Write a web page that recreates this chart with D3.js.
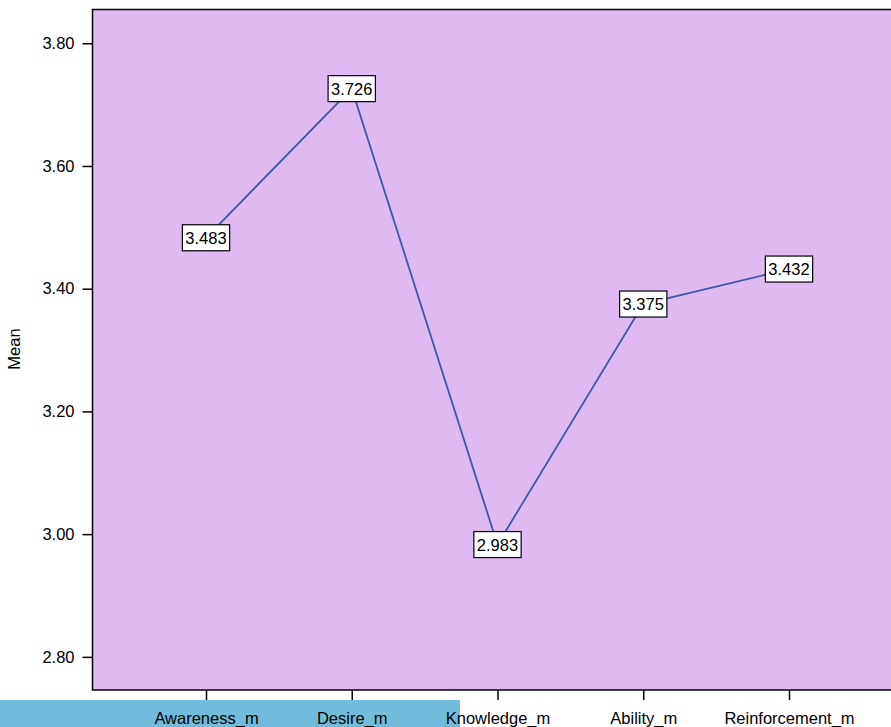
<!DOCTYPE html>
<html>
<head>
<meta charset="utf-8">
<script src="https://cdn.jsdelivr.net/npm/d3@7"></script>
<style>
  body { margin: 0; background: #fff; }
  text { font-family: "Liberation Sans", Arial, sans-serif; fill: #000; }
</style>
</head>
<body>
<div id="chart"></div>
<script>
// means per measure
var categories = ["Awareness_m", "Desire_m", "Knowledge_m", "Ability_m", "Reinforcement_m"];
var means = [3.483, 3.726, 2.983, 3.375, 3.432];
var yTicks = [2.80, 3.00, 3.20, 3.40, 3.60, 3.80];

var svgWidth = 891;
var svgHeight = 727;

var margin = { top: 9.5, right: -20, bottom: 37, left: 92.5 };
var width = svgWidth - margin.left - margin.right;
var height = svgHeight - margin.top - margin.bottom;

var svg = d3.select("#chart")
    .append("svg")
    .attr("width", svgWidth)
    .attr("height", svgHeight);

// blue strip under the left labels
svg.append("rect")
    .attr("x", 0)
    .attr("y", 700)
    .attr("width", 460)
    .attr("height", 27)
    .attr("fill", "#71bcdb");

var chartGroup = svg.append("g")
    .attr("transform", `translate(${margin.left}, ${margin.top})`);

var yScale = d3.scaleLinear()
    .domain([2.746, 3.855])
    .range([height, 0]);

var xScale = d3.scalePoint()
    .domain(categories)
    .range([113.5, 696.5]);

chartGroup.append("rect")
    .attr("width", width)
    .attr("height", height)
    .attr("fill", "#dfb9f2")
    .attr("stroke", "#000")
    .attr("stroke-width", 1.5);

// axes
var leftAxis = d3.axisLeft(yScale)
    .tickValues(yTicks)
    .tickFormat(d3.format(".2f"))
    .tickSize(10)
    .tickPadding(8);

var bottomAxis = d3.axisBottom(xScale)
    .tickSize(10)
    .tickPadding(12);

var yAxisG = chartGroup.append("g").call(leftAxis);
var xAxisG = chartGroup.append("g")
    .attr("transform", `translate(0, ${height})`)
    .call(bottomAxis);

[yAxisG, xAxisG].forEach(function (g) {
    g.select(".domain").remove();
    g.selectAll(".tick line").attr("stroke", "#000").attr("stroke-width", 1.5);
    g.selectAll(".tick text")
        .attr("font-size", 16.5)
        .attr("font-family", "Liberation Sans, Arial, sans-serif")
        .attr("fill", "#000");
});

// line
var data = categories.map(function (c, i) { return { cat: c, mean: means[i] }; });

var line = d3.line()
    .x(d => xScale(d.cat))
    .y(d => yScale(d.mean));

chartGroup.append("path")
    .datum(data)
    .attr("d", line)
    .attr("fill", "none")
    .attr("stroke", "#3d58a9")
    .attr("stroke-width", 1.8);

// value labels in boxes
var labels = chartGroup.selectAll(".valLabel")
    .data(data)
    .enter()
    .append("g")
    .attr("class", "valLabel")
    .attr("transform", d => `translate(${xScale(d.cat)}, ${yScale(d.mean)})`);

var boxes = labels.append("rect")
    .attr("fill", "#fff")
    .attr("stroke", "#000")
    .attr("stroke-width", 1.2);

var texts = labels.append("text")
    .attr("text-anchor", "middle")
    .attr("dy", "0.36em")
    .attr("font-size", 16.5)
    .text(d => d3.format(".3f")(d.mean));

texts.each(function () {
    var w = this.getComputedTextLength() + 6;
    d3.select(this.parentNode).select("rect")
        .attr("x", -w / 2)
        .attr("y", -13)
        .attr("width", w)
        .attr("height", 26);
});

// y axis title
svg.append("text")
    .attr("transform", "translate(20, 349) rotate(-90)")
    .attr("text-anchor", "middle")
    .attr("font-size", 16.5)
    .text("Mean");
</script>
</body>
</html>
